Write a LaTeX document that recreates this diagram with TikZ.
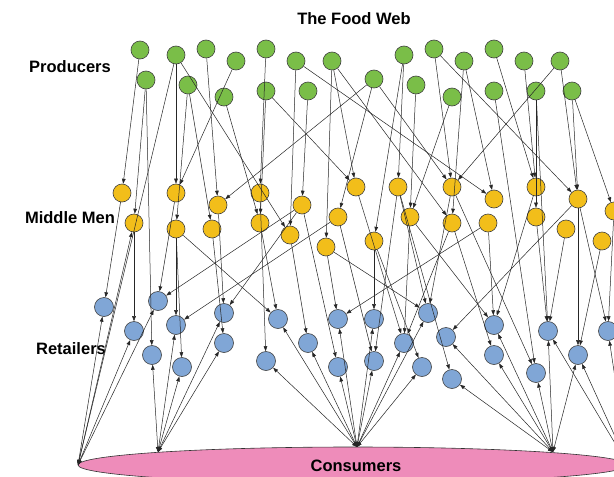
\documentclass[tikz,border=0pt]{standalone}
\usepackage{fontspec}
\setmainfont{Liberation Sans}
\usetikzlibrary{arrows.meta,shapes.geometric}
\definecolor{prodgreen}{RGB}{122,190,72}
\definecolor{midyellow}{RGB}{242,190,26}
\definecolor{retblue}{RGB}{128,166,214}
\definecolor{conspink}{RGB}{238,140,186}
\begin{document}
\begin{tikzpicture}[x=1pt,y=-1pt,
  dot/.style={circle,draw=black!75,minimum size=18pt,inner sep=0pt,line width=0.6pt},
  prod/.style={dot,fill=prodgreen},
  mid/.style={dot,fill=midyellow},
  ret/.style={dot,fill=retblue,minimum size=19pt},
  arr/.style={draw=black!85,line width=0.5pt,-{Triangle[length=5pt,width=3.6pt]}},
  barr/.style={draw=black!85,line width=0.5pt,{Triangle[length=5pt,width=3.6pt]}-{Triangle[length=5pt,width=3.6pt]}},
  lbl/.style={font=\bfseries\fontsize{16.5}{18}\selectfont,inner sep=1pt}]
\useasboundingbox (0,0) rectangle (614,477);
\clip (0,0) rectangle (614,477);
\fill[white] (0,0) rectangle (614,477);

% consumers ellipse
\node[ellipse,draw=black!80,line width=0.6pt,fill=conspink,minimum width=550pt,minimum height=36pt,inner sep=0pt] (cons) at (353,465) {};
\node[lbl] (constext) at (356,466) {Consumers};
\coordinate (c1) at (78,465);
\coordinate (c2) at (158,452);
\coordinate (c3) at (357,447);
\coordinate (c4) at (553,452);
\coordinate (c5) at (628,465);

% labels
\node[lbl] (title) at (354,19) {The Food Web};
\node[lbl] (lprod) at (70,67) {Producers};
\node[lbl] (lmid) at (70,218) {Middle Men};
\node[lbl] (lret) at (71,349) {Retailers};

% producers
\foreach \n/\x/\y in {g1/140/50,g2/146/80,g3/176/55,g4/188/85,g5/206/49,g6/224/97,g7/236/61,g8/266/49,g9/266/91,g10/296/61,g11/308/91,g12/332/61,g13/374/79,g14/404/55,g15/416/85,g16/434/49,g17/452/97,g18/464/61,g19/494/49,g20/494/91,g21/524/61,g22/536/91,g23/560/61,g24/572/91}
  \node[prod] (\n) at (\x,\y) {};

% middle men
\foreach \n/\x/\y in {y1/122/193,y2/134/223,y3/176/193,y4/176/229,y5/218/205,y6/212/229,y7/260/193,y8/260/223,y9/302/205,y10/290/235,y11/326/247,y12/338/217,y13/356/187,y14/374/241,y15/398/187,y16/410/217,y17/452/187,y18/452/223,y19/494/199,y20/488/223,y21/536/187,y22/536/217,y23/566/229,y24/578/199,y25/602/241,y26/614/211}
  \node[mid] (\n) at (\x,\y) {};

% retailers
\foreach \n/\x/\y in {b1/104/307,b2/158/301,b3/134/331,b4/176/325,b5/152/355,b6/182/367,b7/224/313,b8/224/343,b9/278/319,b10/266/361,b11/308/343,b12/338/319,b13/374/319,b14/338/367,b15/374/361,b16/428/313,b17/404/343,b18/422/367,b19/446/337,b20/452/379,b21/494/325,b22/494/355,b23/548/331,b24/536/373,b25/578/355,b26/608/331}
  \node[ret] (\n) at (\x,\y) {};

% producers -> middle men
\foreach \a/\b in {g1/y1,g2/y2,g2/b5,g3/y3,g3/y10,g4/y4,g4/y6,g5/y5,g6/y8,g7/y3,g8/y7,g9/y8,g9/y13,g10/y10,g10/y19,g11/y9,g12/y11,g12/y13,g12/y18,g13/y5,g13/y12,g13/y17,g14/y15,g14/y14,g15/y16,g16/y17,g16/y24,g17/y16,g18/y19,g18/y18,g19/y21,g20/b24,g21/y21,g22/y22,g22/b23,g23/y17,g23/y24,g24/y24,g24/y26,g3/c1}
  \draw[arr] (\a) -- (\b);

% middle men -> retailers
\foreach \a/\b in {y1/b1,y2/b3,y3/b2,y4/b4,y4/b6,y4/b9,y5/b7,y6/b8,y7/b10,y8/b9,y9/b2,y9/b7,y9/b14,y10/b11,y11/b12,y11/b16,y12/b4,y12/b15,y13/b17,y14/b13,y14/b18,y15/b15,y15/b16,y15/b20,y16/b17,y16/b21,y17/b16,y17/b24,y18/b17,y18/b22,y20/b12,y20/b21,y21/b21,y22/b23,y23/b23,y24/b19,y24/b25,y24/b26,y25/b25,y26/b26}
  \draw[arr] (\a) -- (\b);

% consumers <-> retailers
\foreach \a/\b in {c1/b1,c1/b3,c1/b2,c1/y2,c2/b5,c2/b4,c2/b6,c2/b8,c2/b7,c3/b9,c3/b10,c3/b11,c3/b12,c3/b13,c3/b14,c3/b15,c3/b16,c3/b17,c3/b18,c4/b19,c4/b20,c4/b21,c4/b22,c4/b23,c4/b24,c4/b25,c5/b23,c5/b25,c5/b26}
  \draw[barr] (\a) -- (\b);
\end{tikzpicture}
\end{document}
